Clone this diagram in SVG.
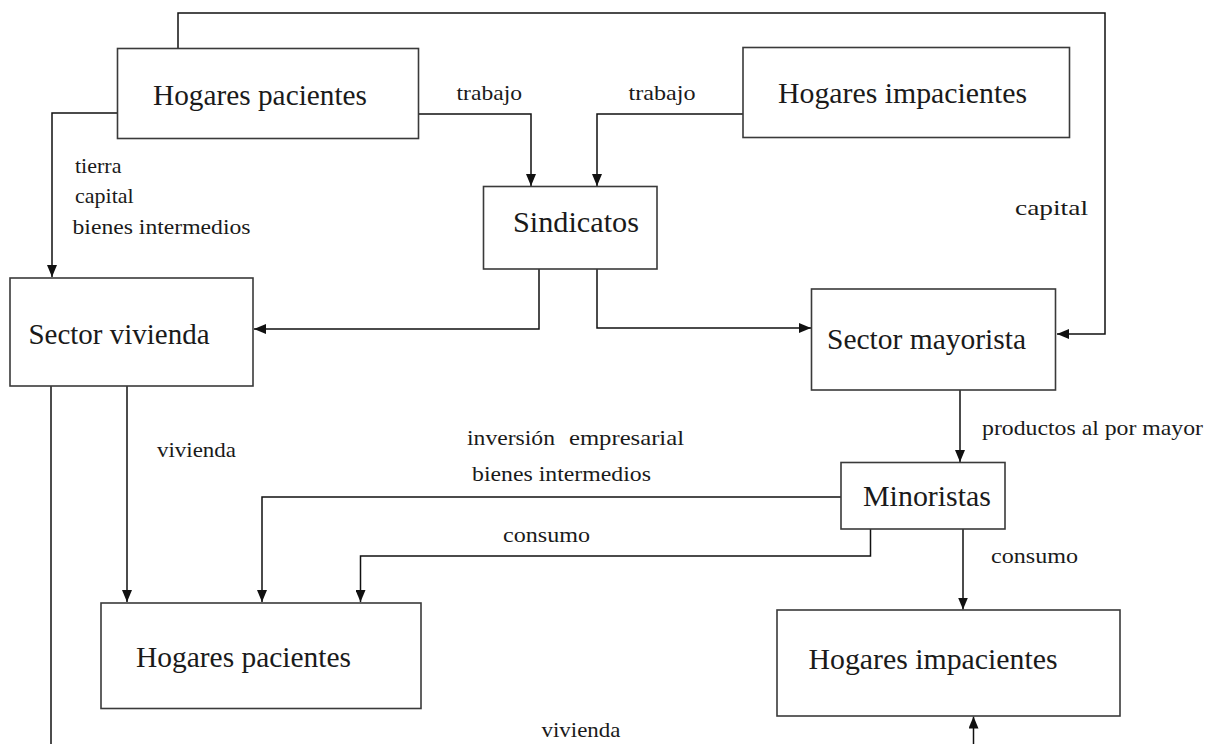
<svg xmlns="http://www.w3.org/2000/svg" width="1214" height="744" viewBox="0 0 1214 744">
  <style>
    .box { fill: #ffffff; stroke: #3a3a3a; stroke-width: 1.6; }
    .lbl { font-family: "Liberation Serif", "Times New Roman", serif; font-size: 30px; fill: #1a1a1a; }
    .sm { font-family: "Liberation Serif", "Times New Roman", serif; font-size: 22px; fill: #1a1a1a; }
    .wire { fill: none; stroke: #111111; stroke-width: 1.5; }
  </style>
  <defs>
    <marker id="arrow" viewBox="0 0 12 10" refX="12" refY="5" markerWidth="12" markerHeight="10" markerUnits="userSpaceOnUse" orient="auto">
      <path d="M0,0 L12,5 L0,10 Z" fill="#111111"/>
    </marker>
  </defs>
  <rect width="1214" height="744" fill="#ffffff"/>

  <!-- flows between sectors -->
  <g id="connectors">
    <!-- capital: patient households to wholesale sector, routed over the top -->
    <path class="wire" d="M178,48 V13 H1105 V334 H1057" marker-end="url(#arrow)"/>
    <!-- trabajo -->
    <path class="wire" d="M419,114 H531 V186" marker-end="url(#arrow)"/>
    <path class="wire" d="M743,114 H597 V186" marker-end="url(#arrow)"/>
    <!-- tierra / capital / bienes intermedios -->
    <path class="wire" d="M117,113 H52 V277" marker-end="url(#arrow)"/>
    <!-- unions to sectors -->
    <path class="wire" d="M539,269 V329 H254" marker-end="url(#arrow)"/>
    <path class="wire" d="M597,269 V328 H811" marker-end="url(#arrow)"/>
    <!-- vivienda -->
    <path class="wire" d="M127,386 V602" marker-end="url(#arrow)"/>
    <path class="wire" d="M51,386 V744"/>
    <path class="wire" d="M973.5,744 V716.5" marker-end="url(#arrow)"/>
    <!-- wholesale to retail -->
    <path class="wire" d="M960,390 V462" marker-end="url(#arrow)"/>
    <!-- retail to households -->
    <path class="wire" d="M841,497 H262 V602" marker-end="url(#arrow)"/>
    <path class="wire" d="M870.5,529 V556 H360.5 V602" marker-end="url(#arrow)"/>
    <path class="wire" d="M963,529 V609.5" marker-end="url(#arrow)"/>
  </g>

  <!-- flow labels -->
  <g id="flow-labels">
    <text class="sm" x="456.5" y="99.5" textLength="65.5" lengthAdjust="spacingAndGlyphs">trabajo</text>
    <text class="sm" x="628.5" y="99.5" textLength="67" lengthAdjust="spacingAndGlyphs">trabajo</text>
    <text class="sm" x="75" y="173">tierra</text>
    <text class="sm" x="75" y="203">capital</text>
    <text class="sm" x="72.5" y="234" textLength="178" lengthAdjust="spacingAndGlyphs">bienes intermedios</text>
    <text class="sm" x="1015" y="215" textLength="73" lengthAdjust="spacingAndGlyphs">capital</text>
    <text class="sm" x="157" y="456.5" textLength="79" lengthAdjust="spacingAndGlyphs">vivienda</text>
    <text class="sm" x="467" y="445"><tspan textLength="88" lengthAdjust="spacingAndGlyphs">inversión</tspan><tspan x="569" textLength="115" lengthAdjust="spacingAndGlyphs">empresarial</tspan></text>
    <text class="sm" x="472" y="480.5" textLength="179" lengthAdjust="spacingAndGlyphs">bienes intermedios</text>
    <text class="sm" x="503" y="541.5" textLength="87" lengthAdjust="spacingAndGlyphs">consumo</text>
    <text class="sm" x="982" y="434.5" textLength="221" lengthAdjust="spacingAndGlyphs">productos al por mayor</text>
    <text class="sm" x="991" y="563" textLength="87" lengthAdjust="spacingAndGlyphs">consumo</text>
    <text class="sm" x="541.5" y="737" textLength="79" lengthAdjust="spacingAndGlyphs">vivienda</text>
  </g>

  <g id="hogares-pacientes-top">
    <rect class="box" x="117.5" y="48.5" width="301" height="90"/>
    <text class="lbl" x="153" y="105" textLength="214" lengthAdjust="spacingAndGlyphs">Hogares pacientes</text>
  </g>
  <g id="hogares-impacientes-top">
    <rect class="box" x="743" y="47.5" width="326.5" height="90"/>
    <text class="lbl" x="778" y="103" textLength="249" lengthAdjust="spacingAndGlyphs">Hogares impacientes</text>
  </g>
  <g id="sindicatos">
    <rect class="box" x="483.5" y="186.5" width="173.5" height="82.5"/>
    <text class="lbl" x="513" y="232" textLength="126" lengthAdjust="spacingAndGlyphs">Sindicatos</text>
  </g>
  <g id="sector-vivienda">
    <rect class="box" x="10" y="278" width="243" height="108"/>
    <text class="lbl" x="28.5" y="344" textLength="181" lengthAdjust="spacingAndGlyphs">Sector vivienda</text>
  </g>
  <g id="sector-mayorista">
    <rect class="box" x="811.5" y="289" width="244" height="101"/>
    <text class="lbl" x="827" y="349" textLength="199" lengthAdjust="spacingAndGlyphs">Sector mayorista</text>
  </g>
  <g id="minoristas">
    <rect class="box" x="841" y="462.5" width="164" height="66.5"/>
    <text class="lbl" x="863" y="505.5" textLength="128" lengthAdjust="spacingAndGlyphs">Minoristas</text>
  </g>
  <g id="hogares-pacientes-bottom">
    <rect class="box" x="101" y="603" width="320" height="105.5"/>
    <text class="lbl" x="136" y="666.5" textLength="215" lengthAdjust="spacingAndGlyphs">Hogares pacientes</text>
  </g>
  <g id="hogares-impacientes-bottom">
    <rect class="box" x="777" y="610" width="343" height="106"/>
    <text class="lbl" x="808.5" y="669" textLength="249" lengthAdjust="spacingAndGlyphs">Hogares impacientes</text>
  </g>
</svg>
